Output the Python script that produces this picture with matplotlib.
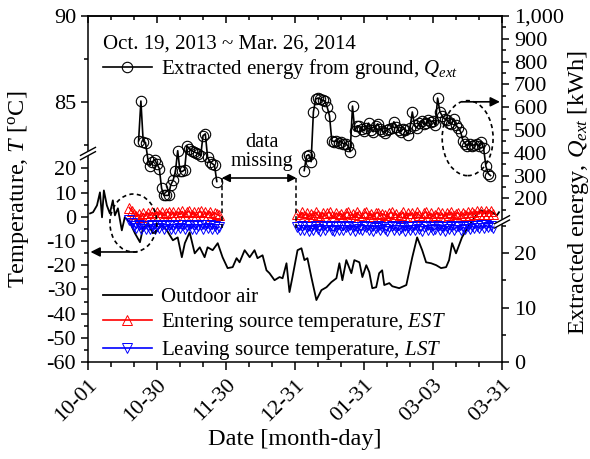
import numpy as np
import matplotlib
matplotlib.use("Agg")
import matplotlib.pyplot as plt
from matplotlib.patches import Ellipse
from matplotlib.ticker import FixedLocator, StrMethodFormatter

plt.rcParams.update({
    "font.family": "Liberation Serif",
    "font.size": 15,
    "mathtext.fontset": "custom",
    "mathtext.rm": "Liberation Serif",
    "mathtext.it": "Liberation Serif:italic",
    "axes.unicode_minus": False,
    "axes.linewidth": 1.1,
})

# x axis in days counted from 2013-10-01
date_ticks = [0, 30, 60, 90, 120, 150, 180]
date_labels = ["10-01", "10-30", "11-30", "12-31", "01-31", "03-03", "03-31"]

temp_ticks = [-60, -50, -40, -30, -20, -10, 0, 10, 20, 85, 90]
temp_minor = [-55, -45, -35, -25, -15, -5, 5, 15, 82.5, 87.5]
energy_ticks = [0, 10, 20, 200, 300, 400, 500, 600, 700, 800, 900, 1000]
energy_minor = [5, 15, 25, 150, 250, 350, 450, 550, 650, 750, 850, 950]

# extracted energy from ground [kWh], daily
energy1_start = 22
energy1 = [453, 627, 449, 445, 374, 344, 360, 370, 350, 331,
           244, 213, 213, 213, 260, 279, 318, 409, 318, 318,
           325, 431, 418, 410, 405, 400, 396, 387, 475, 483,
           380, 361, 353, 345, 274]
energy2_start = 94
energy2 = [322, 387, 392, 361, 579, 636, 640, 636, 630, 627,
           600, 562, 453, 449, 453, 445, 449, 440, 440, 431,
           405, 605, 496, 518, 518, 505, 496, 510, 530, 500,
           492, 518, 527, 505, 496, 487, 500, 505, 510, 536,
           515, 500, 492, 505, 500, 480, 510, 579, 520, 510,
           530, 540, 525, 530, 545, 536, 540, 520, 640, 580,
           562, 549, 545, 530, 527, 549, 520, 510, 492, 453,
           440, 431, 440, 431, 436, 440, 431, 449, 420, 340,
           309, 300]

# entering / leaving source temperature [C], daily
est1_start = 18
est1 = [3.8, 2.4, 1.2, 0.2, 1.0, -0.2, 1.4, 0.3, 1.6, 0.5,
        1.8, 0.6, 2.0, 0.8, 1.9, 0.4, 1.7, 2.1, 0.6, 1.9,
        0.5, 2.0, 0.9, 2.2, 0.6, 1.8, 2.3, 0.7, 2.0, 0.5,
        1.8, 2.2, 0.6, 1.9, 0.8, 2.1, 0.5, 1.7, 1.0, 0.6]
lst1 = [-1.5, -2.6, -3.6, -4.8, -3.5, -5.2, -3.8, -5.0, -3.6, -4.9,
        -3.4, -5.1, -3.7, -4.6, -3.3, -5.0, -3.9, -3.4, -5.2, -3.6,
        -4.9, -3.5, -4.8, -3.3, -5.1, -3.7, -3.2, -4.9, -3.5, -5.1,
        -3.6, -3.3, -5.0, -3.5, -4.8, -3.4, -5.1, -3.7, -4.9, -4.2]
est2_start = 91
est2 = [1.0, 0.0, 1.8, 0.4, 1.6, -0.2, 1.2, 0.2, 1.9, 0.6,
        0.1, 1.7, 0.3, 1.4, 2.0, 0.5, -0.1, 1.6, 0.4, 1.3,
        0.0, 1.5, 1.9, 0.3, 1.2, -0.2, 1.8, 0.6, 0.1, 1.4,
        1.9, 0.2, 1.3, 0.0, 1.5, 1.7, 0.3, 1.2, 0.8, -0.1,
        1.4, 1.9, 0.4, 1.3, 0.1, 0.9, 1.8, 0.0, 1.5, 0.5,
        1.6, 0.2, 1.8, 0.7, -0.1, 1.4, 2.0, 0.3, 1.5, 0.1,
        0.9, 1.8, 0.4, 1.4, 0.0, 1.6, 0.7, 1.9, 0.3, 1.2,
        1.7, 0.2, 1.5, 0.6, 1.9, 0.8, 2.0, 1.0, 2.2, 1.1,
        2.3, 1.2, 2.4, 1.3, 2.2, 1.0]
lst2 = [-4.2, -5.6, -3.9, -5.3, -4.1, -5.8, -4.4, -5.5, -3.8, -5.2,
        -5.7, -4.0, -5.4, -4.3, -3.9, -5.5, -5.8, -4.2, -5.3, -4.0,
        -5.6, -4.4, -3.9, -5.4, -4.1, -5.8, -4.3, -5.2, -5.6, -4.0,
        -4.2, -5.5, -4.1, -5.8, -4.6, -3.9, -5.4, -4.3, -5.1, -5.7,
        -4.4, -3.9, -5.5, -4.2, -5.6, -4.8, -4.0, -5.8, -4.3, -5.3,
        -4.1, -5.5, -4.0, -5.2, -5.8, -4.3, -3.9, -5.4, -4.2, -5.6,
        -5.0, -4.0, -5.5, -4.3, -5.8, -4.1, -5.2, -3.9, -5.4, -4.4,
        -4.0, -5.5, -4.2, -5.0, -3.8, -4.9, -3.7, -4.8, -3.6, -4.7,
        -3.5, -4.6, -3.4, -4.4, -3.6, -4.5]

# outdoor air temperature [C]
out_day = [0.9, 2.2, 3.9, 5.2, 6.1, 6.9, 8.2, 9.5, 10.8, 11.7,
           13.0, 14.7, 16.0, 18.2, 20.4, 22.6, 23.9, 26.0, 28.2, 29.9,
           32.1, 34.3, 36.9, 39.0, 40.8, 42.1, 44.2, 46.4, 48.6, 50.7,
           52.0, 54.2, 56.4, 58.5, 60.7, 62.9, 64.6, 65.9, 68.1, 70.3,
           72.4, 73.7, 75.9, 77.6, 78.9, 81.1, 83.3, 84.6, 86.3, 87.6,
           88.9, 91.1, 92.8, 94.1, 95.4, 97.1, 99.3, 101.5, 103.7, 105.8,
           108.0, 109.3, 110.6, 112.3, 114.5, 115.8, 118.0, 119.3, 121.0, 122.3,
           123.6, 125.3, 126.6, 127.9, 128.8, 131.0, 132.3, 135.3, 138.4, 141.0,
           143.1, 145.3, 147.0, 149.2, 151.4, 153.5, 155.7, 157.0, 158.3, 160.0,
           161.3, 162.6, 164.4, 165.7, 168.7, 170.9, 173.0, 174.3, 175.6, 177.8, 178.7]
out_temp = [1.4, 1.9, 4.7, 10.1, -0.2, 10.9, 4.7, 1.4, 6.8, 0.6,
            3.5, -5.6, -0.2, -2.3, -6.8, -10.5, -4.7, -2.7, -6.8, -5.6,
            -3.5, -5.6, -9.7, -8.5, -16.7, -10.9, -6.4, -15.1, -12.6, -16.7,
            -12.6, -13.8, -10.9, -16.7, -21.2, -20.8, -17.1, -18.8, -13.8, -16.7,
            -13.8, -17.1, -15.9, -22.1, -23.3, -26.2, -24.9, -25.4, -19.2, -31.1,
            -24.9, -13.8, -13.0, -17.9, -17.1, -24.9, -34.4, -30.3, -29.1, -27.0,
            -25.4, -19.2, -26.2, -17.9, -23.3, -17.9, -18.8, -24.9, -20.0, -22.9,
            -29.5, -29.1, -23.3, -22.1, -28.2, -27.4, -28.7, -29.5, -28.2, -16.7,
            -8.5, -13.8, -18.8, -19.2, -20.0, -21.2, -20.8, -17.9, -10.9, -15.1,
            -11.8, -8.5, -5.6, -3.5, 0.6, 2.7, 1.4, 2.7, 1.9, 0.6, 1.9]

# broken axes: piecewise linear value -> axes fraction
temp_knots = [-60, 25.5, 82.1, 90]
temp_frac = [0, 0.598, 0.607, 1]
energy_knots = [0, 25.6, 100, 1000]
energy_frac = [0, 0.403, 0.407, 1]


def broken(knots, fracs):
    def fwd(v):
        return np.interp(v, knots, fracs)

    def inv(f):
        return np.interp(f, fracs, knots)
    return fwd, inv


def days(start, values):
    return np.arange(start, start + len(values))


fig = plt.figure(figsize=(5.9, 4.59), dpi=100)
ax = fig.add_axes([88 / 590, 97 / 459, 414 / 590, 346 / 459])
ax.set_xlim(0, 180)
ax.set_yscale("function", functions=broken(temp_knots, temp_frac))
ax.set_ylim(-60, 90)

ax2 = ax.twinx()
ax2.set_yscale("function", functions=broken(energy_knots, energy_frac))
ax2.set_ylim(0, 1000)

# ---------------- data ----------------
h_out, = ax.plot(out_day, out_temp, color="k", lw=1.3, label="Outdoor air", zorder=2)
est_kw = dict(color="red", marker="^", mfc="none", ms=6.5, mew=0.7, lw=1.2, zorder=3)
lst_kw = dict(color="blue", marker="v", mfc="none", ms=6.5, mew=0.7, lw=1.2, zorder=3)
h_est, = ax.plot(days(est1_start, est1), est1, label="Entering source temperature, $EST$", **est_kw)
ax.plot(days(est2_start, est2), est2, **est_kw)
h_lst, = ax.plot(days(est1_start, lst1), lst1, label="Leaving source temperature, $LST$", **lst_kw)
ax.plot(days(est2_start, lst2), lst2, **lst_kw)

q_kw = dict(color="k", marker="o", mfc="none", ms=7.5, mew=0.8, lw=1.2)
h_q, = ax2.plot(days(energy1_start, energy1), energy1,
                label="Extracted energy from ground, $Q_{ext}$", **q_kw)
ax2.plot(days(energy2_start, energy2), energy2, **q_kw)

# ---------------- axes ----------------
ax.set_xticks(date_ticks, date_labels, rotation=45, ha="right", rotation_mode="anchor")
ax.xaxis.set_minor_locator(FixedLocator(np.arange(0, 181, 10)))
ax.tick_params(axis="x", which="both", direction="out", top=False, labelsize=16, width=1.1)
ax.tick_params(axis="x", which="major", length=6)
ax.tick_params(axis="x", which="minor", length=3.5)

top = ax.secondary_xaxis("top")
top.set_xticks(date_ticks)
top.xaxis.set_minor_locator(FixedLocator(np.arange(0, 181, 10)))
top.tick_params(axis="x", which="both", direction="in", labeltop=False, width=1.1)
top.tick_params(axis="x", which="major", length=5)
top.tick_params(axis="x", which="minor", length=3)

ax.yaxis.set_major_locator(FixedLocator(temp_ticks))
ax.yaxis.set_minor_locator(FixedLocator(temp_minor))
ax.yaxis.set_major_formatter(StrMethodFormatter("{x:.0f}"))
ax.tick_params(axis="y", which="both", direction="out", right=False, labelsize=16, width=1.1)
ax.tick_params(axis="y", which="major", length=5)
ax.tick_params(axis="y", which="minor", length=3)

ax2.yaxis.set_major_locator(FixedLocator(energy_ticks))
ax2.yaxis.set_minor_locator(FixedLocator(energy_minor))
ax2.yaxis.set_major_formatter(StrMethodFormatter("{x:,.0f}"))
ax2.tick_params(axis="y", which="both", direction="out", left=False, labelsize=16, width=1.1)
ax2.tick_params(axis="y", which="major", length=5)
ax2.tick_params(axis="y", which="minor", length=3)

ax.spines["right"].set_visible(False)
for s in ["left", "top", "bottom"]:
    ax2.spines[s].set_visible(False)

ax.set_ylabel("Temperature, $T$ [$^{\\mathrm{o}}$C]", fontsize=17.5)
ax.yaxis.set_label_coords(-0.137, 0.5)
ax2.set_ylabel("Extracted energy, $Q_{ext}$ [kWh]", fontsize=17.5)
ax2.yaxis.set_label_coords(1.155, 0.49)
ax.set_xlabel("Date [month-day]", fontsize=17.5)
ax.xaxis.set_label_coords(0.5, -0.195)


# axis break marks
def break_mark(axis, xc, yc):
    kw = dict(transform=axis.transAxes, clip_on=False, zorder=10)
    dx, dy, g = 0.018, 0.0116, 0.0062
    axis.plot([xc - dx, xc + dx], [yc - dy, yc + dy], color="white", lw=3.2,
              solid_capstyle="butt", **kw)
    axis.plot([xc - dx, xc + dx], [yc - dy - g, yc + dy - g], color="k", lw=1.0, **kw)
    axis.plot([xc - dx, xc + dx], [yc - dy + g, yc + dy + g], color="k", lw=1.0, **kw)


break_mark(ax, 0.0, 0.6025)
break_mark(ax2, 1.0, 0.405)

# annotations
ell_kw = dict(fill=False, ls=(0, (2.5, 2)), lw=1.2, ec="k", transform=ax.transAxes, zorder=6)
ax.add_patch(Ellipse((0.1096, 0.4017), 0.1133, 0.1676, **ell_kw))
ax.add_patch(Ellipse((0.917, 0.647), 0.1229, 0.2168, **ell_kw))
arr = dict(arrowstyle="-|>", color="k", lw=1.2, mutation_scale=14, shrinkA=0, shrinkB=0)
ax.annotate("", xy=(0.006, 0.318), xytext=(0.118, 0.318), xycoords="axes fraction", arrowprops=arr)
ax.annotate("", xy=(0.995, 0.752), xytext=(0.905, 0.752), xycoords="axes fraction", arrowprops=arr)

ax.annotate("", xy=(0.3229, 0.5318), xytext=(0.5036, 0.5318), xycoords="axes fraction",
            arrowprops=dict(arrowstyle="<|-|>", color="k", lw=1.2, mutation_scale=12,
                            shrinkA=0, shrinkB=0))
for xv in (0.3229, 0.5036):
    ax.plot([xv, xv], [0.5318, 0.387], color="k", ls=(0, (3, 2)), lw=1.1,
            transform=ax.transAxes, zorder=6)
ax.text(0.419, 0.607, "data\nmissing", ha="center", va="center", fontsize=14.5,
        linespacing=0.95, transform=ax.transAxes)

# legends
leg1 = ax.legend(handles=[h_out, h_est, h_lst], loc="center left", bbox_to_anchor=(0.036, 0.108),
                 frameon=False, fontsize=15, handlelength=2.35, handletextpad=0.43,
                 labelspacing=0.22, borderpad=0, borderaxespad=0, markerscale=1.2)
leg2 = ax2.legend(handles=[h_q], loc="center left", bbox_to_anchor=(0.036, 0.879),
                  frameon=False, fontsize=15, handlelength=2.35, handletextpad=0.43,
                  labelspacing=0.2, borderpad=0, borderaxespad=0,
                  title="Oct. 19, 2013 ~ Mar. 26, 2014", title_fontsize=15, alignment="left")

fig.savefig("out.png", dpi=100)
